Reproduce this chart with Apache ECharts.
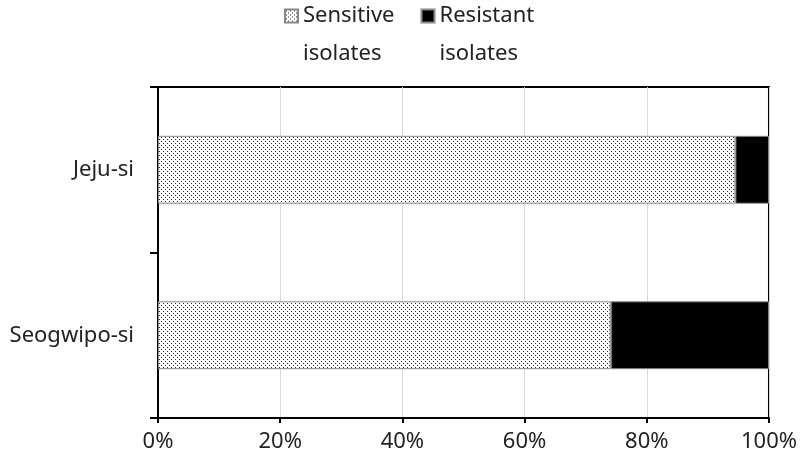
<!DOCTYPE html>
<html>
<head>
<meta charset="utf-8">
<script src="https://cdn.jsdelivr.net/npm/echarts@6/dist/echarts.min.js"></script>
<style>html,body{margin:0;padding:0;background:#fff}#c{width:800px;height:463px}</style>
</head>
<body>
<div id="c"></div>
<script>
const categories = ['Jeju-si', 'Seogwipo-si'];
const sensitive = [94.5, 74.1];
const resistant = [5.5, 25.9];
const xTicks = [0, 20, 40, 60, 80, 100];
const seriesNames = ['Sensitive\nisolates', 'Resistant\nisolates'];

function dotPattern() {
  const c = document.createElement('canvas');
  c.width = 4; c.height = 4;
  const g = c.getContext('2d');
  g.fillStyle = '#ffffff'; g.fillRect(0, 0, 4, 4);
  g.fillStyle = '#2a2a2a';
  g.fillRect(1, 1, 1, 1);
  g.fillRect(3, 3, 1, 1);
  return c;
}
const pat = { image: dotPattern(), repeat: 'repeat' };

const font = '"Noto Sans", "DejaVu Sans", sans-serif';
const chart = echarts.init(document.getElementById('c'));
chart.setOption({
  animation: false,
  backgroundColor: '#fff',
  textStyle: { fontFamily: font },
  legend: {
    top: -46,
    left: 279,
    itemWidth: 13,
    itemHeight: 13,
    itemGap: 26,
    icon: 'rect',
    data: seriesNames,
    formatter: name => ' \n' + name,
    textStyle: { fontSize: 22, color: '#222', lineHeight: 38, fontFamily: font }
  },
  grid: { left: 158, right: 31, top: 87, bottom: 45, containLabel: false,
          show: true, borderColor: '#000', borderWidth: 2 },
  xAxis: {
    type: 'value', min: 0, max: 100, interval: 20,
    axisLine: { show: true, lineStyle: { color: '#000', width: 2 } },
    axisTick: { show: true, length: 5, lineStyle: { color: '#000', width: 2 } },
    splitLine: { show: true, lineStyle: { color: '#d9d9d9', width: 1 } },
    axisLabel: { formatter: v => xTicks.includes(v) ? v + '%' : '', fontSize: 22, color: '#222', margin: 13, fontFamily: font }
  },
  yAxis: {
    type: 'category', data: categories, inverse: true,
    axisLine: { show: true, lineStyle: { color: '#000', width: 2 } },
    axisTick: { show: true, length: 8, lineStyle: { color: '#000', width: 2 } },
    axisLabel: { fontSize: 22, color: '#222', margin: 24, fontFamily: font }
  },
  series: [
    { name: seriesNames[0], type: 'bar', stack: 'a', data: sensitive, barWidth: '41%',
      itemStyle: { color: pat, borderColor: '#888', borderWidth: 1 } },
    { name: seriesNames[1], type: 'bar', stack: 'a', data: resistant, barWidth: '41%',
      itemStyle: { color: '#000', borderColor: '#888', borderWidth: 1 } }
  ]
});
</script>
</body>
</html>
